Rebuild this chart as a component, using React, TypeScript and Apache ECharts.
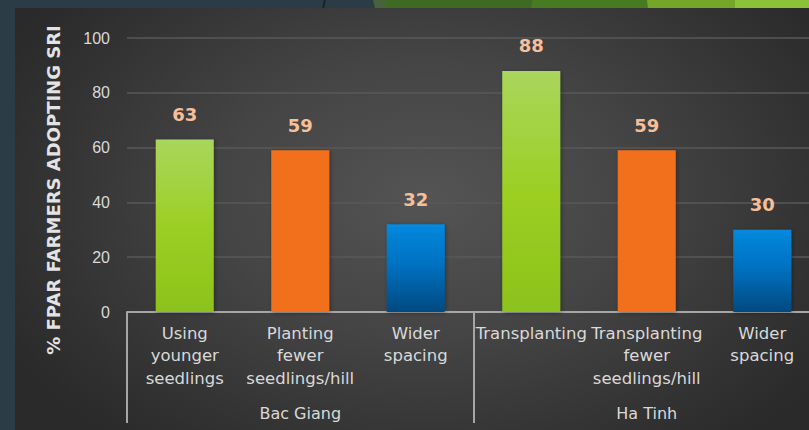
import React, { useEffect, useRef } from "react";
import * as echarts from "echarts";

const categories = [
  "Using\nyounger\nseedlings",
  "Planting\nfewer\nseedlings/hill",
  "Wider\nspacing",
  "Transplanting",
  "Transplanting\nfewer\nseedlings/hill",
  "Wider\nspacing",
];
const groups = ["Bac Giang", "Ha Tinh"];
const values = [63, 59, 32, 88, 59, 30];
const kinds = ["green", "orange", "blue", "green", "orange", "blue"];
const yTicks = [0, 20, 40, 60, 80, 100];
const yTitle = "% FPAR FARMERS ADOPTING SRI";

const fills: Record<string, any> = {
  green: new echarts.graphic.LinearGradient(0, 0, 0, 1, [
    { offset: 0, color: "#a9d65c" },
    { offset: 0.5, color: "#9ccf24" },
    { offset: 1, color: "#8cc21a" },
  ]),
  orange: "#f26f1e",
  blue: new echarts.graphic.LinearGradient(0, 0, 0, 1, [
    { offset: 0, color: "#0788dc" },
    { offset: 0.45, color: "#0372c2" },
    { offset: 1, color: "#064a80" },
  ]),
};

export default function App() {
  const ref = useRef<HTMLDivElement>(null);
  useEffect(() => {
    if (!ref.current) return;
    const chart = echarts.init(ref.current, undefined, { renderer: "svg" });
    const textColor = "#d9d9d9";
    chart.setOption({
      animation: false,
      backgroundColor: "transparent",
      grid: { left: 127, right: 0, top: 38, bottom: 118, containLabel: false },
      xAxis: [
        {
          type: "category",
          data: categories,
          position: "bottom",
          axisLine: { show: true, lineStyle: { color: "#a6a6a6", width: 2 } },
          axisTick: { show: false },
          axisLabel: {
            interval: 0,
            margin: 10,
            color: textColor,
            fontFamily: "DejaVu Sans",
            fontSize: 16.5,
            lineHeight: 22.5,
            verticalAlign: "top",
          },
        },
        {
          type: "category",
          data: groups,
          position: "bottom",
          axisLine: { show: false },
          axisTick: { show: true, length: 111, lineStyle: { color: "#a6a6a6", width: 2 } },
          axisLabel: {
            interval: 0,
            margin: 93,
            color: textColor,
            fontFamily: "DejaVu Sans",
            fontSize: 16,
          },
        },
      ],
      yAxis: {
        type: "value",
        min: yTicks[0],
        max: yTicks[yTicks.length - 1],
        interval: yTicks[1] - yTicks[0],
        axisLine: { show: false },
        axisTick: { show: false },
        axisLabel: {
          margin: 17,
          color: textColor,
          fontFamily: "Liberation Sans",
          fontSize: 16,
        },
        splitLine: { lineStyle: { color: "#585858", width: 1.5 } },
      },
      series: [
        {
          type: "bar",
          xAxisIndex: 0,
          barWidth: 58,
          data: values.map((v, i) => ({
            value: v,
            itemStyle: {
              color: fills[kinds[i]],
              shadowColor: "rgba(0,0,0,0.35)",
              shadowBlur: 4,
              shadowOffsetX: 1,
              shadowOffsetY: 1,
            },
          })),
          label: {
            show: true,
            position: "top",
            distance: 16,
            color: "#f7bf98",
            fontWeight: "bold",
            fontFamily: "DejaVu Sans",
            fontSize: 18,
          },
        },
      ],
      graphic: [
        {
          type: "text",
          x: 53,
          y: 190,
          rotation: Math.PI / 2,
          style: {
            text: yTitle,
            fill: "#e3e3e3",
            font: "bold 18px 'DejaVu Sans'",
            align: "center",
            verticalAlign: "middle",
          },
        },
      ],
    });
    return () => chart.dispose();
  }, []);

  return (
    <div
      style={{
        position: "fixed",
        left: 0,
        top: 0,
        width: 809,
        height: 430,
        overflow: "hidden",
        background: "#2b3c46",
      }}
    >
      <div style={{ position: "absolute", left: 323, top: 0, width: 2, height: 8, background: "#1c2226", transform: "skewX(-10deg)" }} />
      <div style={{ position: "absolute", left: 373, top: 0, width: 20, height: 8, background: "#46623f", clipPath: "polygon(0 0,100% 0,100% 100%,10% 100%)" }} />
      <div style={{ position: "absolute", left: 386, top: 0, width: 150, height: 8, background: "#3f6a24" }} />
      <div style={{ position: "absolute", left: 531, top: 0, width: 120, height: 8, background: "#467b22", clipPath: "polygon(1% 0,100% 0,100% 100%,0 100%)" }} />
      <div style={{ position: "absolute", left: 647, top: 0, width: 90, height: 8, background: "#76a628", clipPath: "polygon(0 0,100% 0,100% 100%,1% 100%)" }} />
      <div style={{ position: "absolute", left: 735, top: 0, width: 74, height: 8, background: "#8dc13a" }} />
      <div
        style={{
          position: "absolute",
          left: 15,
          top: 8,
          width: 794,
          height: 422,
          background:
            "radial-gradient(ellipse 60% 75% at 52% 45%, #545454 0%, #444444 45%, #333333 80%, #2a2a2a 100%)",
        }}
      />
      <div ref={ref} style={{ position: "absolute", left: 0, top: 0, width: 820, height: 430 }} />
    </div>
  );
}
